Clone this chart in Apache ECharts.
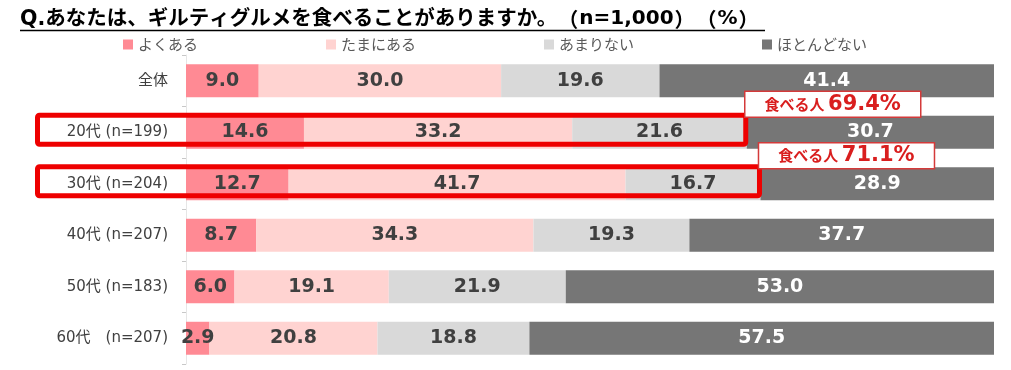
<!DOCTYPE html>
<html>
<head>
<meta charset="utf-8">
<script src="https://cdn.jsdelivr.net/npm/echarts@6/dist/echarts.min.js"></script>
<style>html,body{margin:0;padding:0;background:#fff;}#main{width:1011px;height:370px;}</style>
</head>
<body>
<div id="main"></div>
<script>
const titleMain = 'Q.あなたは、ギルティグルメを食べることがありますか。';
const titleParts = ['（', 'n=1,000', '）', '（', '%', '）'];
const categories = ['全体', '20代 (n=199)', '30代 (n=204)', '40代 (n=207)', '50代 (n=183)', '60代　(n=207)'];
const seriesNames = ['よくある', 'たまにある', 'あまりない', 'ほとんどない'];
const often = [9.0, 14.6, 12.7, 8.7, 6.0, 2.9];
const sometimes = [30.0, 33.2, 41.7, 34.3, 19.1, 20.8];
const rarely = [19.6, 21.6, 16.7, 19.3, 21.9, 18.8];
const never = [41.4, 30.7, 28.9, 37.7, 53.0, 57.5];
const highlightRows = [1, 2];
const calloutPrefix = '食べる人 ';

const colors = ['#FF8A94', '#FFD3D1', '#D9D9D9', '#767676'];
const labelColors = ['#404040', '#404040', '#404040', '#FFFFFF'];
const jp = '"Noto Sans CJK JP", sans-serif';
const mixed = '"DejaVu Sans", "Noto Sans CJK JP", sans-serif';
const num = '"DejaVu Sans", sans-serif';

// build rich title so full-width brackets keep their full width
const titleRich = '{t|' + titleMain + '}' + titleParts.map(s =>
  s === '（' ? '{po|' + s + '}' : s === '）' ? '{pc|' + s + '}' : '{n|' + s + '}').join('');

const chart = echarts.init(document.getElementById('main'), null, {renderer: 'canvas'});
const allData = [often, sometimes, rarely, never];

const series = allData.map((d, i) => ({
  name: seriesNames[i],
  type: 'bar',
  stack: 'total',
  barWidth: '64%',
  data: d,
  itemStyle: {color: colors[i]},
  label: {
    show: true,
    position: 'inside',
    formatter: p => p.value.toFixed(1),
    color: labelColors[i],
    fontFamily: num,
    fontWeight: 'bold',
    fontSize: 19
  },
  emphasis: {disabled: true}
}));

const tStyle = {fontFamily: mixed, fontWeight: 'bold', fontSize: 20, color: '#000'};

chart.setOption({
  animation: false,
  title: {
    text: titleRich,
    left: 20, top: 9, padding: 0,
    textStyle: {
      fontFamily: mixed, fontWeight: 'bold', fontSize: 20, color: '#000',
      rich: {
        t: Object.assign({}, tStyle, {fontSize: 20.5}),
        n: tStyle,
        po: Object.assign({}, tStyle, {fontFamily: jp, width: 22, align: 'right'}),
        pc: Object.assign({}, tStyle, {fontFamily: jp, width: 22, align: 'left'})
      }
    }
  },
  legend: {
    data: seriesNames,
    left: 123, top: 37, padding: 0,
    itemGap: 128, itemWidth: 10, itemHeight: 10,
    icon: 'rect',
    textStyle: {fontFamily: jp, fontSize: 15, color: '#595959'},
    selectedMode: false
  },
  grid: {left: 186, right: 17, top: 55, bottom: 6, containLabel: false},
  xAxis: {
    type: 'value', min: 0, max: 100,
    show: false
  },
  yAxis: {
    type: 'category', inverse: true, data: categories,
    axisLine: {show: true, lineStyle: {color: '#E6E6E6', width: 1}},
    axisTick: {show: true, length: 4, lineStyle: {color: '#C8C8C8'}},
    axisLabel: {margin: 18, fontFamily: mixed, fontSize: 15, color: '#404040'}
  },
  series: series
});

// annotations derived from data
const graphics = [];
graphics.push({
  type: 'line', silent: true,
  shape: {x1: 20, y1: 30.5, x2: 765, y2: 30.5},
  style: {stroke: '#000', lineWidth: 1.5}
});
highlightRows.forEach(r => {
  const total = +(often[r] + sometimes[r] + rarely[r]).toFixed(1);
  const pEnd = chart.convertToPixel({gridIndex: 0}, [total, r]);
  const cx = pEnd[0], cy = pEnd[1];
  graphics.push({
    type: 'rect', silent: true, z: 100,
    shape: {x: 37.5, y: cy - 17, width: cx - 1 - 37.5, height: 29, r: 2},
    style: {fill: 'none', stroke: '#EE0000', lineWidth: 5}
  });
  graphics.push({
    type: 'rect', silent: true, z: 101,
    shape: {x: cx - 2, y: cy - 41, width: 176, height: 26},
    style: {fill: '#fff', stroke: '#D43A3A', lineWidth: 1.5}
  });
  graphics.push({
    type: 'text', silent: true, z: 102,
    x: cx - 2 + 88, y: cy - 28,
    style: {
      text: '{a|' + calloutPrefix + '}{b|' + total.toFixed(1) + '%}',
      align: 'center', verticalAlign: 'middle',
      rich: {
        a: {fontFamily: jp, fontWeight: 'bold', fontSize: 15, fill: '#D91E1E', color: '#D91E1E'},
        b: {fontFamily: num, fontWeight: 'bold', fontSize: 21, fill: '#D91E1E', color: '#D91E1E'}
      }
    }
  });
});
chart.setOption({graphic: graphics});
</script>
</body>
</html>
